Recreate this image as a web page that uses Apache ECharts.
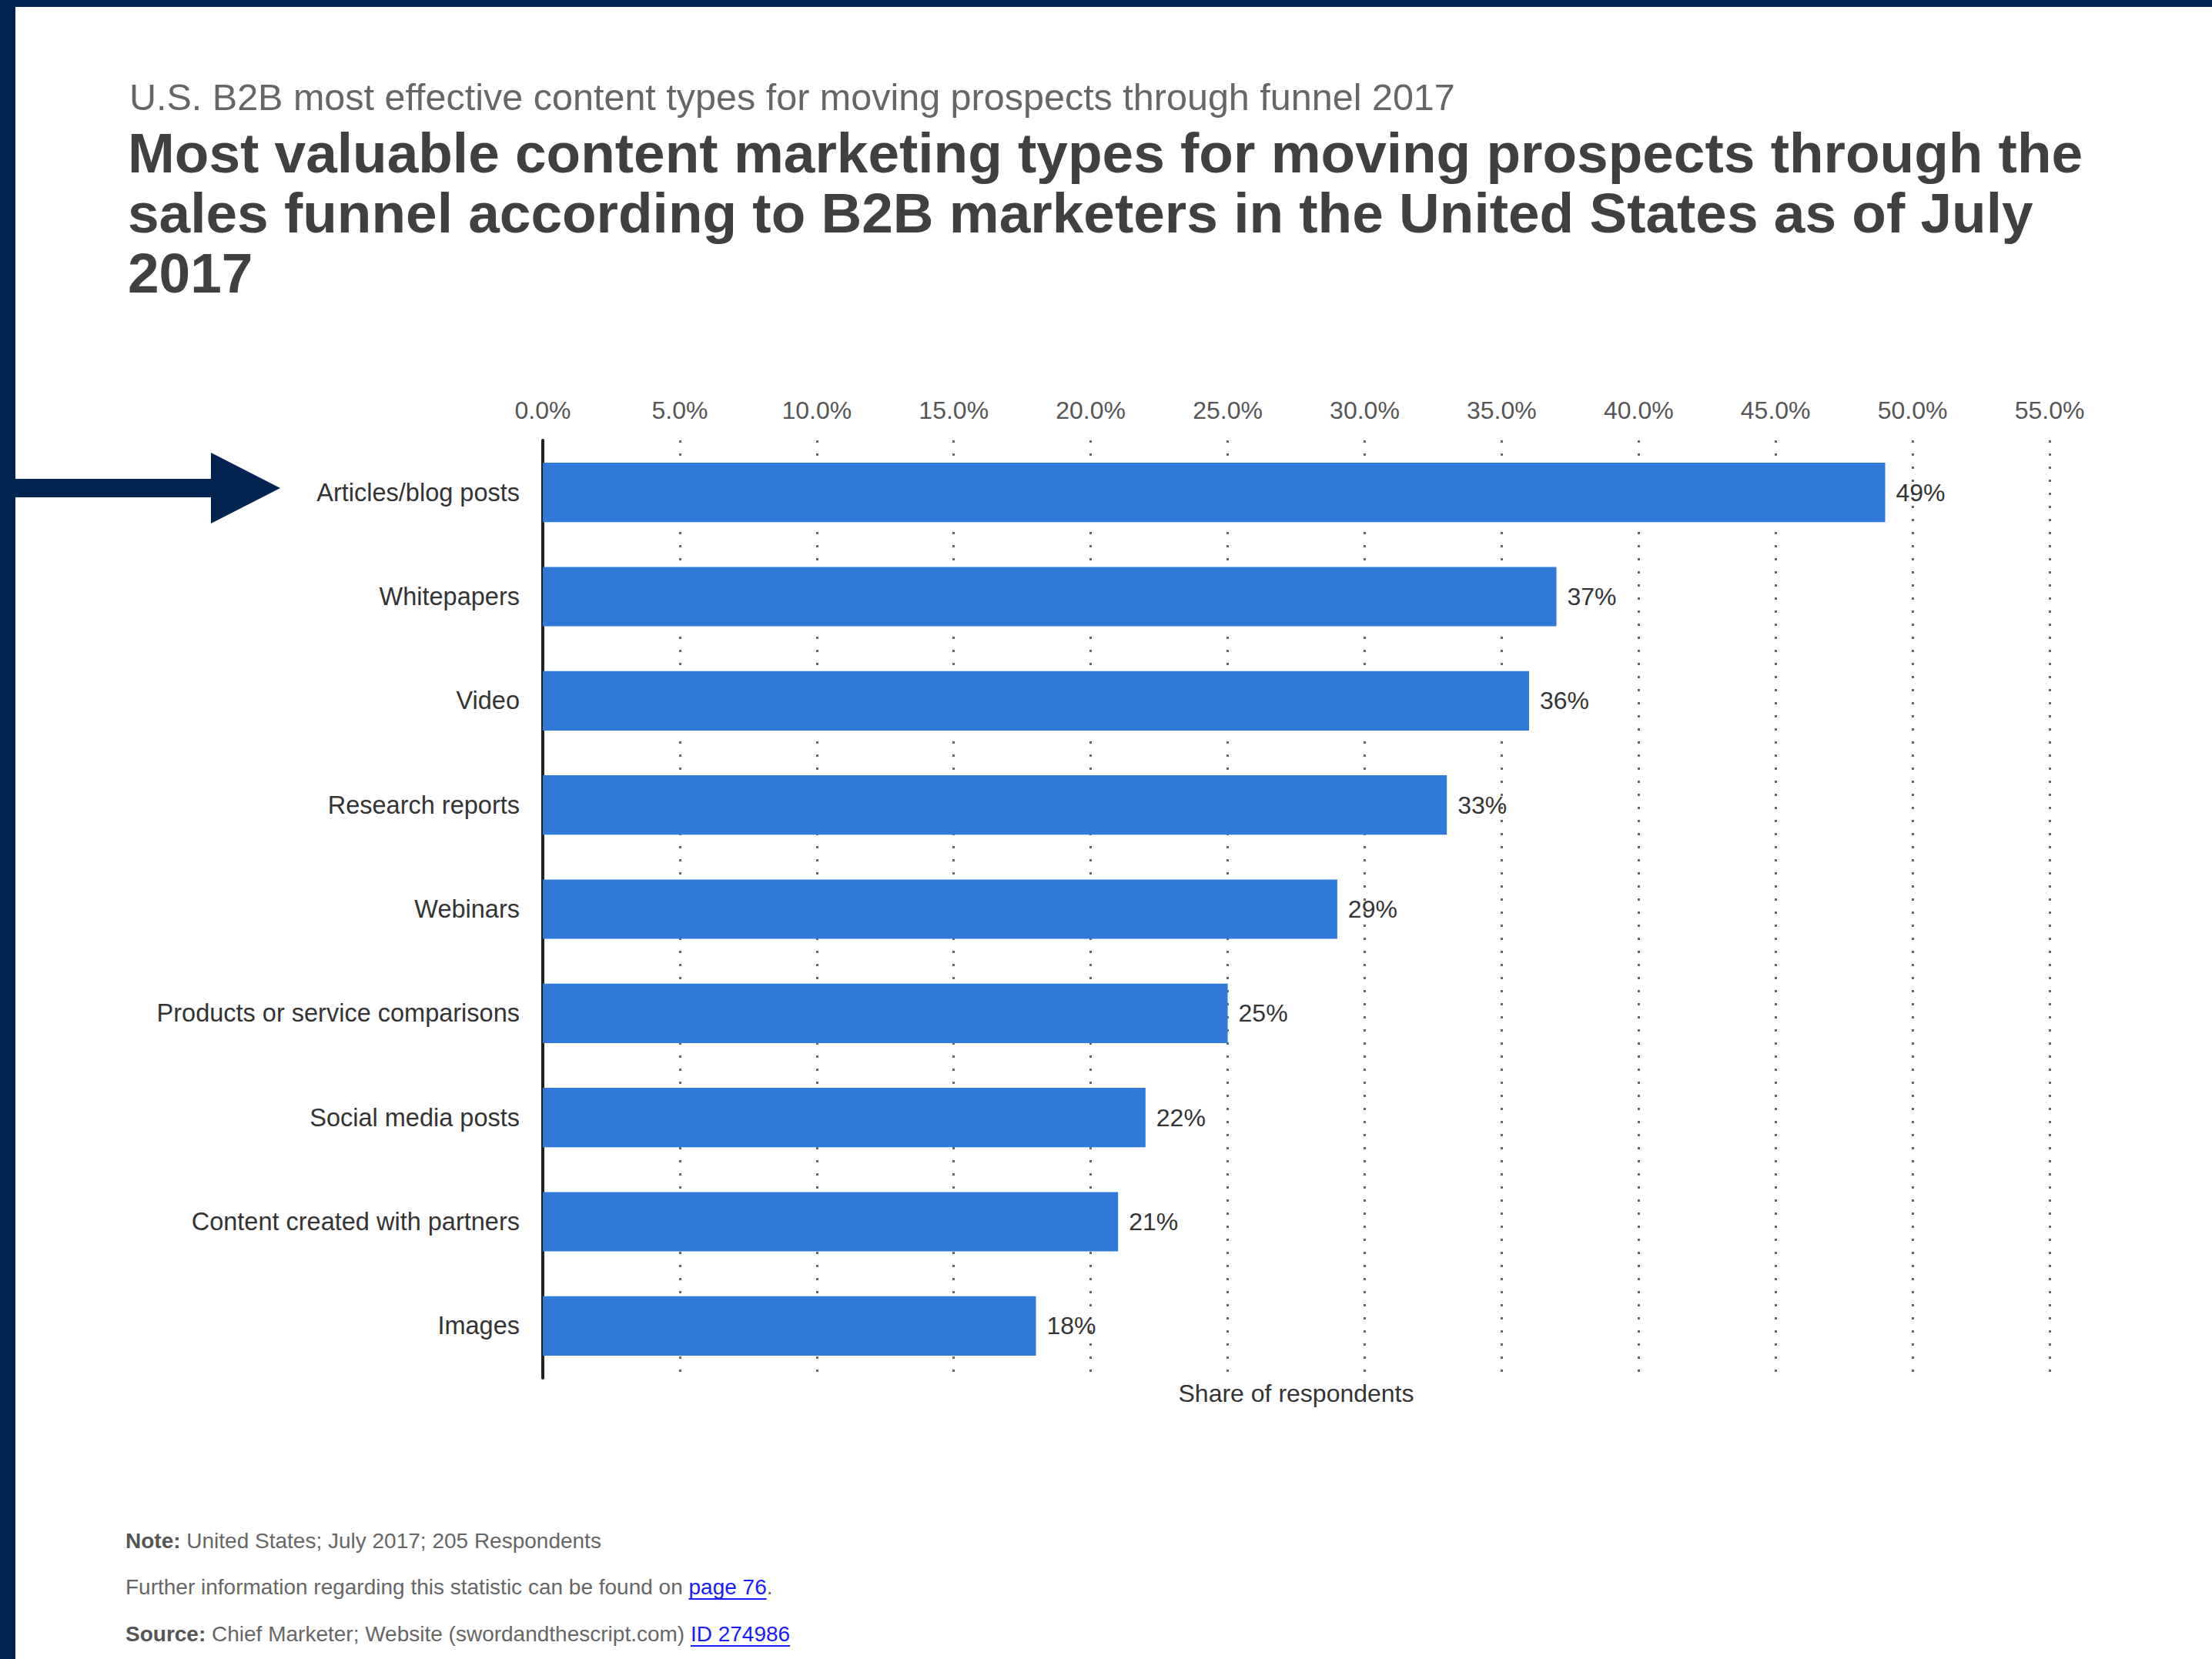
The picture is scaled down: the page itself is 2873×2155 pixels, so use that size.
<!DOCTYPE html>
<html>
<head>
<meta charset="utf-8">
<script src="https://cdn.jsdelivr.net/npm/echarts@6/dist/echarts.min.js"></script>
<style>
  html, body { margin: 0; padding: 0; background: #fff; }
  #chart { width: 2873px; height: 2155px; }
</style>
</head>
<body>
<div id="chart"></div>
<script>
var categories = [
    'Articles/blog posts',
    'Whitepapers',
    'Video',
    'Research reports',
    'Webinars',
    'Products or service comparisons',
    'Social media posts',
    'Content created with partners',
    'Images'
];
var shares = [49, 37, 36, 33, 29, 25, 22, 21, 18];
var axisMin = 0, axisMax = 55, axisStep = 5;

var FONT = '"Liberation Sans", Arial, Helvetica, sans-serif';
var NAVY = '#00234f';

// width of text, for the link underlines
function textWidth(txt, font) {
    var ctx = document.createElement('canvas').getContext('2d');
    ctx.font = font;
    return ctx.measureText(txt).width;
}

var footX = 163;
var footSize = 28;
var line2 = 'Further information regarding this statistic can be found on ';
var line3 = 'Chief Marketer; Website (swordandthescript.com) ';
var l2w = textWidth(line2, footSize + 'px ' + FONT);
var l3w = textWidth('Source: ', 'bold ' + footSize + 'px ' + FONT) + textWidth(line3, footSize + 'px ' + FONT);
var link1w = textWidth('page 76', footSize + 'px ' + FONT);
var link2w = textWidth('ID 274986', footSize + 'px ' + FONT);

var chart = echarts.init(document.getElementById('chart'), null, {renderer: 'svg'});

var option = {
    backgroundColor: '#fff',
    animation: false,
    title: [
        {
            text: 'U.S. B2B most effective content types for moving prospects through funnel 2017',
            left: 163, top: 96,
            textStyle: {fontFamily: FONT, fontSize: 48.5, fontWeight: 'normal', color: '#666'}
        },
        {
            text: 'Most valuable content marketing types for moving prospects through the\nsales funnel according to B2B marketers in the United States as of July\n2017',
            left: 161, top: 154,
            textStyle: {fontFamily: FONT, fontSize: 73, fontWeight: 'bold', color: '#404040', lineHeight: 78}
        }
    ],
    grid: {left: 705, top: 572, width: 1957, height: 1218, containLabel: false},
    xAxis: [
        {
            type: 'value',
            position: 'top',
            min: axisMin, max: axisMax, interval: axisStep,
            axisLine: {show: false},
            axisTick: {show: false},
            axisLabel: {
                margin: 23,
                fontFamily: FONT, fontSize: 32, color: '#555',
                formatter: function (v) { return v.toFixed(1) + '%'; }
            },
            splitLine: {show: true, lineStyle: {color: '#666', width: 3, type: [3, 14]}}
        },
        {
            type: 'value',
            position: 'bottom',
            min: axisMin, max: axisMax,
            axisLine: {show: false}, axisTick: {show: false},
            axisLabel: {show: false}, splitLine: {show: false},
            name: 'Share of respondents',
            nameLocation: 'middle',
            nameGap: 4,
            nameTextStyle: {fontFamily: FONT, fontSize: 32, color: '#333'}
        }
    ],
    yAxis: {
        type: 'category',
        data: categories,
        inverse: true,
        axisLine: {show: true, lineStyle: {color: '#222', width: 4}},
        axisTick: {show: false},
        axisLabel: {margin: 30, fontFamily: FONT, fontSize: 32.5, color: '#333'}
    },
    series: [{
        type: 'bar',
        data: shares,
        barWidth: '57%',
        itemStyle: {color: '#2f79d9'},
        label: {
            show: true, position: 'right', distance: 14,
            fontFamily: FONT, fontSize: 32, color: '#333',
            formatter: '{c}%'
        }
    }],
    graphic: [
        // frame
        {type: 'rect', shape: {x: 0, y: 0, width: 2873, height: 9}, style: {fill: NAVY}},
        {type: 'rect', shape: {x: 0, y: 0, width: 20, height: 2155}, style: {fill: NAVY}},
        // arrow
        {type: 'rect', shape: {x: 0, y: 622, width: 276, height: 24}, style: {fill: NAVY}},
        {type: 'polygon', shape: {points: [[274, 588], [274, 680], [364, 634]]}, style: {fill: NAVY}},
        // footer
        {
            type: 'text', left: footX, top: 1987,
            style: {
                text: '{b|Note:} United States; July 2017; 205 Respondents',
                rich: {b: {fontWeight: 'bold', fontFamily: FONT, fontSize: footSize, fill: '#555'}},
                font: footSize + 'px ' + FONT, fill: '#666'
            }
        },
        {
            type: 'text', left: footX, top: 2047,
            style: {
                text: line2 + '{a|page 76}.',
                rich: {a: {fontFamily: FONT, fontSize: footSize, fill: '#1a1aff'}},
                font: footSize + 'px ' + FONT, fill: '#666'
            }
        },
        {
            type: 'text', left: footX, top: 2108,
            style: {
                text: '{b|Source:} ' + line3 + '{a|ID 274986}',
                rich: {
                    b: {fontWeight: 'bold', fontFamily: FONT, fontSize: footSize, fill: '#555'},
                    a: {fontFamily: FONT, fontSize: footSize, fill: '#1a1aff'}
                },
                font: footSize + 'px ' + FONT, fill: '#666'
            }
        },
        {type: 'line', shape: {x1: footX + l2w, y1: 2077, x2: footX + l2w + link1w, y2: 2077}, style: {stroke: '#1a1aff', lineWidth: 2}},
        {type: 'line', shape: {x1: footX + l3w, y1: 2138, x2: footX + l3w + link2w, y2: 2138}, style: {stroke: '#1a1aff', lineWidth: 2}}
    ]
};

chart.setOption(option);
window.onresize = chart.resize;
</script>
</body>
</html>
